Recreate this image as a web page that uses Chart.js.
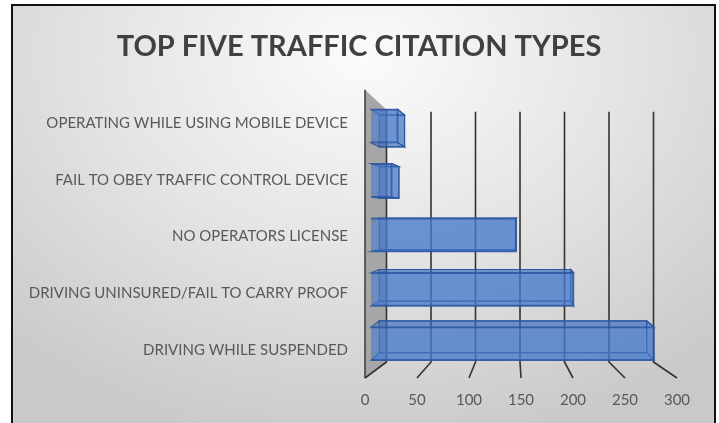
<!DOCTYPE html>
<html lang="en">
<head>
  <meta charset="UTF-8">
  <title>Top Five Traffic Citation Types</title>
  <script src="https://cdn.jsdelivr.net/npm/chart.js"></script>
  <style>
    body { margin: 0; background: #fff; overflow: hidden; }
    .frame {
      position: absolute; left: 11px; top: 4px;
      width: 701px; height: 417px;
      border: 2px solid #111; border-bottom: none;
      background: radial-gradient(ellipse 75% 95% at 50% 12%, #fbfbfb 0%, #e4e4e4 50%, #c9c9c9 100%);
    }
  </style>
</head>
<body>
  <div class="frame">
    <canvas id="citationChart" width="701" height="417"></canvas>
  </div>

  <script>
    // data
    const categories = [
      'OPERATING WHILE USING MOBILE DEVICE',
      'FAIL TO OBEY TRAFFIC CONTROL DEVICE',
      'NO OPERATORS LICENSE',
      'DRIVING UNINSURED/FAIL TO CARRY PROOF',
      'DRIVING WHILE SUSPENDED'
    ];
    const citations = [27, 21, 146, 204, 285];
    const xTicks = [0, 50, 100, 150, 200, 250, 300];

    const FONT = 'Lato, "Open Sans", sans-serif';
    const BACK = 0.896;   // back wall scale vs bar plane
    const DEPTH = 0.945;  // bar back face scale

    // 3d look: side wall, back gridlines, floor lines, bar depth faces
    const depthPlugin = {
      id: 'depth',
      beforeDatasetsDraw(chart) {
        const ctx = chart.ctx;
        const ca = chart.chartArea;
        const x = chart.scales.x;
        const xf = chart.scales.xf;
        const cx = x.getPixelForValue(150);
        const back = v => cx + (x.getPixelForValue(v) - cx) * BACK;

        ctx.save();
        // left wall
        ctx.beginPath();
        ctx.moveTo(xf.getPixelForValue(0), ca.top - 9);
        ctx.lineTo(back(0), ca.top + 11);
        ctx.lineTo(back(0), ca.bottom - 9);
        ctx.lineTo(xf.getPixelForValue(0), ca.bottom + 7);
        ctx.closePath();
        ctx.fillStyle = '#a6a6a6';
        ctx.fill();
        ctx.strokeStyle = '#3a3a3a';
        ctx.lineWidth = 1.5;
        ctx.beginPath();
        ctx.moveTo(xf.getPixelForValue(0), ca.top - 9);
        ctx.lineTo(xf.getPixelForValue(0), ca.bottom + 7);
        ctx.stroke();

        // gridlines on back wall and floor
        ctx.strokeStyle = '#333';
        ctx.lineWidth = 1.6;
        xTicks.forEach(v => {
          ctx.beginPath();
          ctx.moveTo(back(v), v === 0 ? ca.top + 11 : ca.top + 13);
          ctx.lineTo(back(v), ca.bottom - 9);
          ctx.lineTo(xf.getPixelForValue(v), ca.bottom + 7);
          ctx.stroke();
        });

        // bar back/side faces
        const vx = cx;
        const vy = ca.top + (ca.bottom - ca.top) * 0.43;
        const p = (px, py) => [vx + (px - vx) * DEPTH, vy + (py - vy) * DEPTH];
        chart.getDatasetMeta(0).data.forEach(bar => {
          const {x: x1, y, base, height} = bar.getProps(['x', 'y', 'base', 'height'], true);
          const y0 = y - height / 2, y1 = y + height / 2;
          const f = [[base, y0], [x1, y0], [x1, y1], [base, y1]];
          const b = f.map(c => p(c[0], c[1]));
          const faces = [
            b,
            [f[0], f[1], b[1], b[0]],
            [f[3], f[2], b[2], b[3]],
            [f[1], f[2], b[2], b[1]]
          ];
          faces.forEach(face => {
            ctx.beginPath();
            face.forEach((c, i) => i ? ctx.lineTo(c[0], c[1]) : ctx.moveTo(c[0], c[1]));
            ctx.closePath();
            ctx.fillStyle = 'rgba(55, 105, 190, 0.42)';
            ctx.fill();
            ctx.strokeStyle = 'rgba(40, 85, 160, 0.85)';
            ctx.lineWidth = 1.2;
            ctx.stroke();
          });
        });
        ctx.restore();
      }
    };

    new Chart(document.getElementById('citationChart'), {
      type: 'bar',
      data: {
        labels: categories,
        datasets: [{
          data: citations,
          backgroundColor: 'rgba(75, 125, 205, 0.62)',
          borderColor: 'rgba(45, 90, 165, 0.9)',
          borderWidth: 1.5,
          barPercentage: 0.615,
          categoryPercentage: 1
        }]
      },
      options: {
        indexAxis: 'y',
        responsive: false,
        animation: false,
        layout: { padding: { left: 0, right: 9, top: 0, bottom: 0 } },
        plugins: {
          legend: { display: false },
          tooltip: { enabled: false },
          title: {
            display: true,
            text: 'TOP FIVE TRAFFIC CITATION TYPES',
            color: '#404040',
            font: { family: FONT, size: 29, weight: 'bold' },
            padding: { top: 23, bottom: 35 }
          }
        },
        scales: {
          x: { min: 0, max: 300, display: false },
          xf: {
            type: 'linear', position: 'bottom', axis: 'x',
            min: 5.77, max: 292.3, bounds: 'data',
            grid: { display: false, drawTicks: false },
            border: { display: false },
            afterBuildTicks: s => { s.ticks = xTicks.map(v => ({ value: v })); },
            afterFit: s => { s.height = 52; },
            ticks: {
              autoSkip: false, maxRotation: 0, padding: 20,
              color: '#595959',
              font: { family: FONT, size: 15 },
              callback: v => v
            }
          },
          y: { display: false },
          y2: {
            type: 'linear', position: 'left', axis: 'y',
            reverse: true, offset: false, min: -0.427, max: 4.373, bounds: 'data',
            grid: { display: false, drawTicks: false },
            border: { display: false },
            afterBuildTicks: s => { s.ticks = categories.map((c, i) => ({ value: i })); },
            afterFit: s => { s.width = 358; },
            ticks: {
              autoSkip: false, padding: 23,
              color: '#595959',
              font: { family: FONT, size: 15 },
              callback: v => categories[v]
            }
          },
          // empty spacer on the right so the title centres over the frame
          yr: {
            type: 'linear', position: 'right', axis: 'y', offset: false,
            grid: { display: false, drawTicks: false },
            border: { display: false },
            ticks: { display: false },
            afterFit: s => { s.width = 36; }
          }
        }
      },
      plugins: [depthPlugin]
    });
  </script>
</body>
</html>
